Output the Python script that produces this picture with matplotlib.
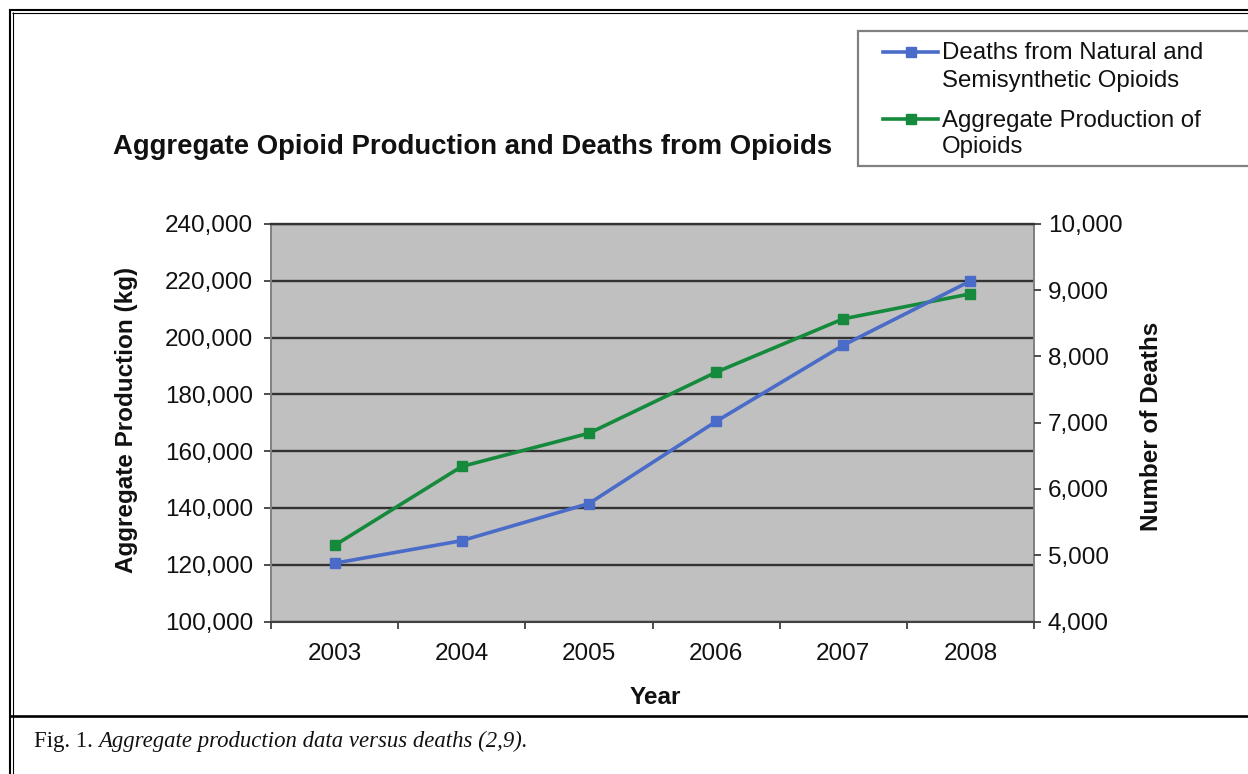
import numpy as np
import matplotlib
matplotlib.use("Agg")
import matplotlib.pyplot as plt
from matplotlib.lines import Line2D
from matplotlib.patches import Rectangle

# ---- data ----
years = ["2003", "2004", "2005", "2006", "2007", "2008"]
production_kg = [126800, 154600, 166300, 187800, 206600, 215400]
deaths = [4880, 5220, 5780, 7020, 8170, 9140]
left_ticks = [100000, 120000, 140000, 160000, 180000, 200000, 220000, 240000]
right_ticks = [4000, 5000, 6000, 7000, 8000, 9000, 10000]
title = "Aggregate Opioid Production and Deaths from Opioids"
deaths_label = ["Deaths from Natural and", "Semisynthetic Opioids"]
prod_label = ["Aggregate Production of", "Opioids"]
caption_a = "Fig. 1. "
caption_b = "Aggregate production data versus deaths (2,9)."

W, H = 1248, 774
BLUE = "#4a6cc8"
GREEN = "#168a3c"
SANS = "Liberation Sans"
TXT = "#111111"

plt.rcParams["font.family"] = [SANS, "DejaVu Sans"]

fig = plt.figure(figsize=(W / 100, H / 100), dpi=100)
fig.patch.set_facecolor("white")


def fx(px):
    return px / W


def fy(py):
    return 1 - py / H


L, R, T, B = 271, 1034, 224, 621.5
ax = fig.add_axes([fx(L), fy(B), fx(R - L), (B - T) / H])
ax.set_facecolor("#c0c0c0")
x = np.arange(len(years))
ax.set_xlim(-0.5, len(years) - 0.5)
ax.set_ylim(left_ticks[0], left_ticks[-1])
ax.set_yticks(left_ticks)
ax.set_yticklabels([f"{v:,}" for v in left_ticks])
ax.yaxis.grid(True, color="#333333", lw=1.7)
ax.set_axisbelow(True)

ax.set_xticks(np.arange(-0.5, len(years), 1.0))
ax.set_xticklabels([])
ax.set_xticks(x, minor=True)
ax.set_xticklabels(years, minor=True)
ax.tick_params(axis="x", which="major", direction="out", length=5, width=1.3, color="#404040")
ax.tick_params(axis="x", which="minor", length=0, pad=15.5, labelsize=17.5,
               labelcolor=TXT)
ax.tick_params(axis="y", direction="out", length=5, width=1.3, color="#404040",
               pad=8, labelsize=17.5, labelcolor=TXT)

for s in ("left", "right"):
    ax.spines[s].set_color("#808080")
    ax.spines[s].set_linewidth(1.4)
ax.spines["bottom"].set_color("#404040")
ax.spines["bottom"].set_linewidth(1.5)
ax.spines["top"].set_color("#333333")
ax.spines["top"].set_linewidth(1.7)

ax.plot(x, production_kg, color=GREEN, lw=2.6, marker="s", ms=6.8,
        markeredgecolor=GREEN, zorder=3, clip_on=False)

ax2 = ax.twinx()
ax2.set_ylim(right_ticks[0], right_ticks[-1])
ax2.set_yticks(right_ticks)
ax2.set_yticklabels([f"{v:,}" for v in right_ticks])
ax2.tick_params(axis="y", direction="out", length=5, width=1.3, color="#404040",
                pad=5, labelsize=17.5, labelcolor=TXT)
for s in ax2.spines.values():
    s.set_visible(False)
ax2.plot(x, deaths, color=BLUE, lw=2.6, marker="s", ms=6.8,
         markeredgecolor=BLUE, zorder=3, clip_on=False)

# axis titles
fig.text(fx(127), fy(420), "Aggregate Production (kg)", rotation=90,
         ha="center", va="center", fontsize=17.5, fontweight="bold", color=TXT)
fig.text(fx(1152), fy(426), "Number of Deaths", rotation=90,
         ha="center", va="center", fontsize=17.5, fontweight="bold", color=TXT)
fig.text(fx(655), fy(698), "Year", ha="center", va="center",
         fontsize=17.5, fontweight="bold", color=TXT)

# chart title
fig.text(fx(473), fy(154), title, ha="center", va="baseline",
         fontsize=19.8, fontweight="bold", color=TXT)

# legend (box runs off the right edge like the reference)
fig.add_artist(Rectangle((fx(858), fy(166)), fx(420), (166 - 31) / H,
                         transform=fig.transFigure, facecolor="white",
                         edgecolor="#808080", lw=1.6, clip_on=False))
for yline, col in ((52, BLUE), (119, GREEN)):
    fig.add_artist(Line2D([fx(883), fx(938)], [fy(yline), fy(yline)],
                          transform=fig.transFigure, color=col, lw=2.6))
    fig.add_artist(Line2D([fx(910.5)], [fy(yline)], transform=fig.transFigure,
                          color=col, marker="s", ms=6.8, lw=0))
for base, txt in ((59, deaths_label[0]), (86.5, deaths_label[1]),
                  (126.5, prod_label[0]), (153.5, prod_label[1])):
    fig.text(fx(942), fy(base), txt, ha="left", va="baseline", fontsize=17.3,
             color=TXT)

# outer frame lines
def hline(y, x0, x1, lw):
    fig.add_artist(Line2D([fx(x0), fx(x1)], [fy(y), fy(y)],
                          transform=fig.transFigure, color="black", lw=lw,
                          solid_capstyle="butt"))


def vline(xp, y0, y1, lw):
    fig.add_artist(Line2D([fx(xp), fx(xp)], [fy(y0), fy(y1)],
                          transform=fig.transFigure, color="black", lw=lw,
                          solid_capstyle="butt"))


hline(9.5, 8.5, W, 1.5)
vline(9.5, 8.5, H, 1.5)
hline(12.8, 12.3, W, 0.8)
vline(12.8, 12.3, H, 0.8)
hline(716, 9, W, 1.9)

# caption
cap = fig.text(fx(34), fy(747.5), caption_a, ha="left", va="baseline",
               fontsize=16.4, family="Liberation Serif", color=TXT)
fig.add_artist(matplotlib.text.Annotation(
    caption_b, xy=(1, fy(747.5)), xycoords=(cap, "figure fraction"),
    ha="left", va="baseline", fontsize=16.4, family="Liberation Serif",
    style="italic", color=TXT))

fig.savefig("out.png", dpi=100)
